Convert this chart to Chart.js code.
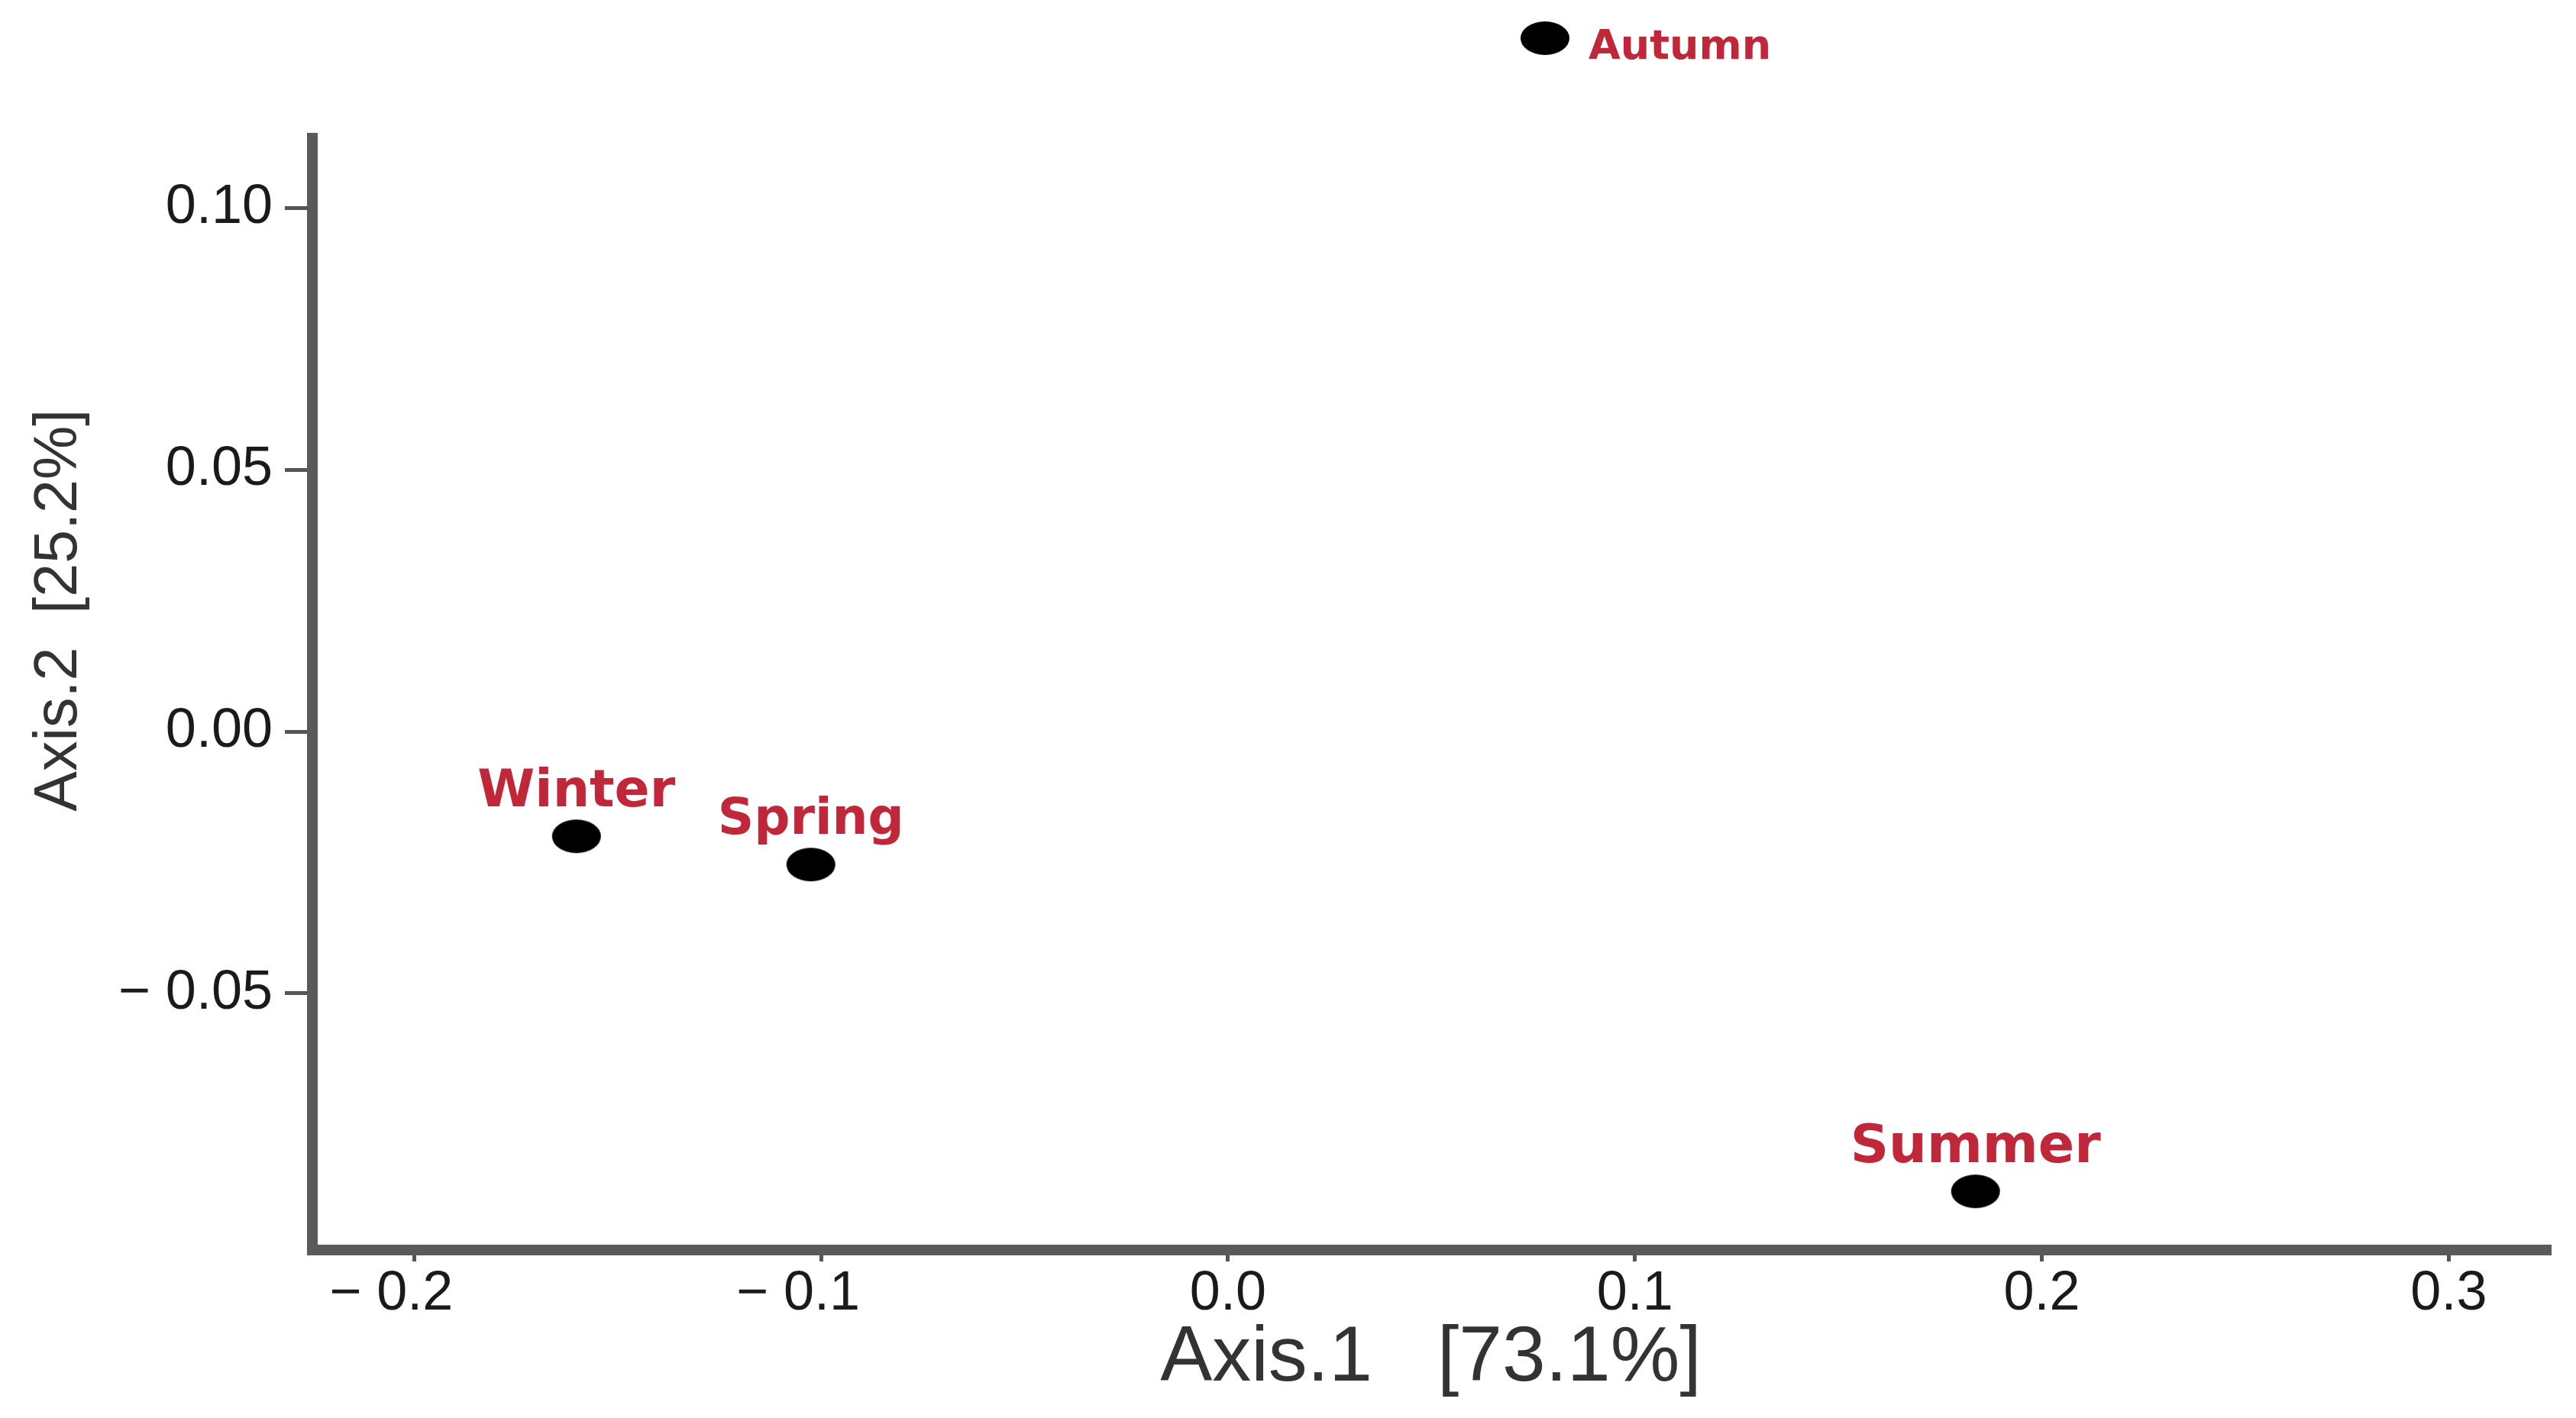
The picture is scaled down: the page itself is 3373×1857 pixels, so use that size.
<!DOCTYPE html>
<html><head><meta charset="utf-8">
<script src="https://cdn.jsdelivr.net/npm/chart.js@4.4.1/dist/chart.umd.min.js"></script>
<style>html,body{margin:0;padding:0;background:#fff;} canvas{display:block;}</style>
</head><body>
<canvas id="c" width="3373" height="1857" style="width:3373px;height:1857px"></canvas>
<script>
// ---- data ----
const seasons = ['Autumn', 'Winter', 'Spring', 'Summer'];
const axis1Values = [0.0779, -0.1601, -0.1025, 0.1837];
const axis2Values = [0.1324, -0.0200, -0.0254, -0.0878];
const xTickValues = [-0.2, -0.1, 0.0, 0.1, 0.2, 0.3];
const xTickLabels = ['\u2212 0.2', '\u2212 0.1', '0.0', '0.1', '0.2', '0.3'];
const yTickValues = [-0.05, 0.0, 0.05, 0.10];
const yTickLabels = ['\u2212 0.05', '0.00', '0.05', '0.10'];
const xTitle = 'Axis.1   [73.1%]';
const yTitle = 'Axis.2  [25.2%]';

// ---- styles ----
const labelStyle = {
  Autumn: { place: 'right', size: 54 },
  Winter: { place: 'top', size: 68 },
  Spring: { place: 'top', size: 66 },
  Summer: { place: 'top', size: 70 }
};
const labelColor = '#c0283a';

function ellipseDot(rx, ry) {
  const c = document.createElement('canvas');
  c.width = 2 * rx + 2; c.height = 2 * ry + 2;
  const g = c.getContext('2d');
  g.fillStyle = '#000';
  g.beginPath(); g.ellipse(rx + 1, ry + 1, rx, ry, 0, 0, Math.PI * 2); g.fill();
  return c;
}
const dot = ellipseDot(32, 22);

const pointLabels = {
  id: 'pointLabels',
  afterDatasetsDraw(chart) {
    const ctx = chart.ctx;
    const meta = chart.getDatasetMeta(0);
    ctx.save();
    ctx.fillStyle = labelColor;
    ctx.textBaseline = 'alphabetic';
    meta.data.forEach((el, i) => {
      const name = seasons[i];
      const st = labelStyle[name];
      ctx.font = 'bold ' + st.size + 'px "DejaVu Sans"';
      if (st.place === 'right') {
        ctx.textAlign = 'left';
        ctx.fillText(name, el.x + 57, el.y + 27);
      } else {
        ctx.textAlign = 'center';
        ctx.fillText(name, el.x, el.y - 64 + 0.3645 * st.size);
      }
    });
    ctx.restore();
  }
};

function labelFor(values, labels, v) {
  const i = values.findIndex(t => Math.abs(t - v) < 1e-9);
  return i >= 0 ? labels[i] : '';
}
// keep the numeric part centred under the tick, with the minus sign hanging left
function hangMinus(s) {
  return s.charAt(0) === '\u2212' ? s + '   ' : s;
}

new Chart(document.getElementById('c'), {
  type: 'scatter',
  data: {
    datasets: [{
      data: seasons.map((s, i) => ({ x: axis1Values[i], y: axis2Values[i] })),
      pointStyle: dot,
      // image point style is drawn at its own size; the large radius only
      // widens the in-area margin so the point above the plot is still drawn
      pointRadius: 160,
      pointBorderWidth: 0,
      backgroundColor: '#000',
      borderColor: '#000',
      clip: false
    }]
  },
  options: {
    responsive: false,
    devicePixelRatio: 1,
    animation: false,
    events: [],
    layout: { autoPadding: false, padding: { left: 0, right: 35, top: 181, bottom: 0 } },
    plugins: { legend: { display: false }, tooltip: { enabled: false } },
    scales: {
      x: {
        type: 'linear', min: -0.2250, max: 0.3247,
        afterFit: s => { s.height = 220; },
        afterBuildTicks: s => { s.ticks = xTickValues.map(v => ({ value: v })); },
        ticks: {
          callback: v => hangMinus(labelFor(xTickValues, xTickLabels, v)),
          font: { family: 'Liberation Sans', size: 72 }, color: '#1a1a1a',
          padding: 0, maxRotation: 0, autoSkip: false
        },
        grid: { drawOnChartArea: false, drawTicks: true, tickLength: 15, color: '#555', lineWidth: 5 },
        border: { display: true, color: '#5a5a5a', width: 14 },
        title: { display: true, text: xTitle, color: '#333',
          font: { family: 'Liberation Sans', size: 102 }, padding: { top: 0, bottom: 16 } }
      },
      y: {
        type: 'linear', min: -0.0990, max: 0.1133,
        afterFit: s => { s.width = 409; },
        afterBuildTicks: s => { s.ticks = yTickValues.map(v => ({ value: v })); },
        ticks: {
          callback: v => labelFor(yTickValues, yTickLabels, v),
          font: { family: 'Liberation Sans', size: 72 }, color: '#1a1a1a',
          padding: 16, autoSkip: false
        },
        grid: { drawOnChartArea: false, drawTicks: true, tickLength: 36, color: '#555', lineWidth: 5 },
        border: { display: true, color: '#5a5a5a', width: 14 },
        title: { display: true, text: '          ' + yTitle, color: '#333',
          font: { family: 'Liberation Sans', size: 79 }, padding: { top: 31, bottom: 0 } }
      }
    }
  },
  plugins: [pointLabels]
});
</script>
</body></html>
